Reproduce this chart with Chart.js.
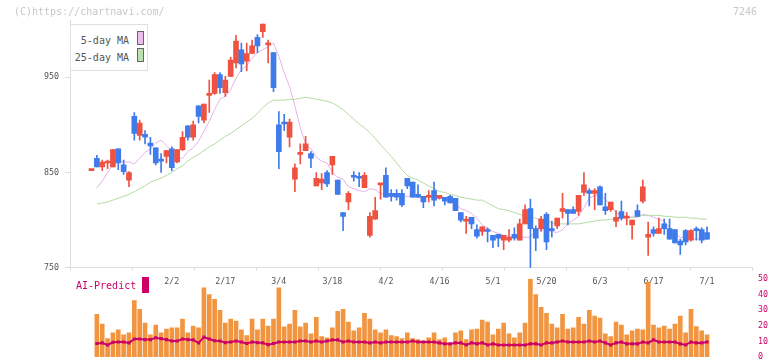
<!DOCTYPE html>
<html>
<head>
<meta charset="utf-8">
<script src="https://cdn.jsdelivr.net/npm/chart.js@4.4.1/dist/chart.umd.min.js"></script>
<style>
body { margin: 0; background: #fff; }
#wrap { position: relative; width: 772px; height: 361px; font-family: 'DejaVu Sans Mono', monospace; }
#wrap canvas { position: absolute; left: 0; top: 0; }
.txt { position: absolute; font-size: 10px; line-height: 12px; white-space: nowrap; }
#legendBox { position: absolute; left: 70px; top: 24px; width: 76px; height: 45px; border: 1px solid #e0e0e0; background: #fff; }
.lgText { position: absolute; right: 18px; font-size: 10px; line-height: 12px; color: #555; white-space: nowrap; }
.lgSwatch { position: absolute; left: 66px; width: 5px; height: 12px; border: 1px solid #666; }
</style>
</head>
<body>
<div id="wrap">
  <canvas id="chartMain" width="772" height="361"></canvas>
  <canvas id="chartPredict" width="772" height="361"></canvas>
  <div class="txt" style="left:14px; top:6px; color:#c8c8c8;">(C)https://chartnavi.com/</div>
  <div class="txt" style="right:15px; top:6px; color:#c8c8c8;">7246</div>
  <div id="legendBox">
    <div class="lgText" style="top:10px;">5-day MA</div>
    <div class="lgSwatch" style="top:6px; background:#ecbeec;"></div>
    <div class="lgText" style="top:27px;">25-day MA</div>
    <div class="lgSwatch" style="top:23px; background:#bee0b0;"></div>
  </div>
  <div class="txt" style="left:76px; top:280px; color:#cc0066;">AI-Predict</div>
  <div style="position:absolute; left:142px; top:277px; width:7px; height:16px; background:#cc0066;"></div>
</div>
<script>
// trading days shown on the chart
var days = ['1/9','1/13','1/14','1/15','1/16','1/19','1/20','1/21','1/22','1/23','1/26','1/27','1/28','1/29','1/30',
    '2/2','2/3','2/4','2/5','2/6','2/9','2/10','2/12','2/13','2/16','2/17','2/18','2/19','2/20','2/24','2/25','2/26','2/27',
    '3/2','3/3','3/4','3/5','3/6','3/9','3/10','3/11','3/12','3/13','3/16','3/17','3/18','3/19','3/23','3/24','3/25','3/26','3/27','3/30','3/31',
    '4/1','4/2','4/3','4/6','4/7','4/8','4/9','4/10','4/13','4/14','4/15','4/16','4/17','4/20','4/21','4/22','4/23','4/24','4/27','4/28','4/30',
    '5/1','5/7','5/8','5/11','5/12','5/13','5/14','5/15','5/18','5/19','5/20','5/21','5/22','5/25','5/26','5/27','5/28','5/29',
    '6/1','6/2','6/3','6/4','6/5','6/8','6/9','6/10','6/11','6/12','6/15','6/16','6/17','6/18','6/19','6/22','6/23','6/24','6/25','6/26','6/29','6/30',
    '7/1'];

var openP = [852,865,856,860,856,875,858,842,909,889, 890,881,876,864,867,875,861,874,899,887,
    920,905,931,933,953,934,951,965,979,967, 975,992,998,984,976,900,903,887,843,869,
    873,870,836,839,850,858,842,808,819,846, 846,834,784,801,837,847,828,828,828,844,
    840,827,825,824,831,823,824,825,823,808, 799,803,790,788,790,784,785,779,779,785,
    779,796,812,791,791,806,791,794,809,811, 811,809,829,831,828,835,814,811,799,809,
    802,795,810,820,782,790,786,796,791,790, 778,789,779,790,790,787];
var highP = [853,868,863,863,874,875,863,851,913,905, 894,887,876,870,873,877,874,893,899,904,
    920,922,947,955,955,951,971,994,986,986, 989,995,1006,989,976,914,911,906,859,880,
    888,872,850,849,852,867,842,808,830,851, 850,850,808,824,838,855,832,832,832,844,
    840,837,825,831,840,826,824,826,823,808, 804,803,795,793,792,784,785,784,790,792,
    801,816,822,794,804,808,799,802,828,811, 814,826,850,833,833,836,828,819,810,820,
    808,800,816,842,798,793,802,801,801,790, 780,790,790,793,792,793];
var lowP = [852,856,852,854,856,853,848,835,884,884, 880,869,858,850,860,852,860,873,884,884,
    902,902,913,932,933,930,951,960,956,957, 975,976,992,965,935,854,894,877,830,859,
    873,855,836,832,835,848,827,789,811,841, 835,834,782,801,822,824,820,821,814,833,
    824,824,813,819,815,822,816,818,810,798, 786,791,781,784,777,771,772,769,777,779,
    779,796,750,768,788,769,782,791,802,795, 807,805,826,815,811,816,806,809,793,800,
    795,780,804,818,763,783,786,785,780,776, 764,774,778,779,776,780];
var closeP = [853,856,861,861,874,860,851,850,891,902, 887,878,860,862,873,855,874,887,887,900,
    909,922,933,953,939,947,968,988,964,975, 983,983,1006,985,939,872,901,903,855,870,
    880,865,844,843,838,867,827,804,828,845, 844,847,804,810,838,824,825,824,816,836,
    824,824,819,825,821,826,820,818,810,800, 801,796,783,793,788,779,781,784,782,781,
    796,811,791,781,801,777,789,802,812,807, 807,826,837,828,831,816,810,819,803,802,
    803,800,804,835,785,786,791,791,780,776, 774,777,789,789,779,780];

var ma5 = [null,834,841,850,858,862,861,861,859,865, 871,875,881,884,878,872,865,865,872,876,
    883,893,904,916,927,930,937,949,958,962, 970,976,979,982,986,972,955,940,920,897,
    880,875,866,862,860,850,845,843,835,833, 831,830,833,832,828,826,825,825,825,825,
    825,824,824,824,823,823,822,821,817,812, 810,807,802,795,791,788,786,784,783,782,
    782,782,782,789,790,789,788,787,790,796, 800,804,813,823,826,826,822,816,808,804,
    803,803,803,806,805,803,801,799,792,786, 782,781,780,780,780,780];
var ma25 = [null,817,818,819,821,823,825,827,830,833, 836,840,842,844,847,850,854,857,862,866,
    869,873,877,880,884,888,891,895,899,903, 907,912,918,923,926,926,926,927,927,928,
    929,928,927,926,925,923,920,916,911,906, 901,897,892,886,879,873,867,860,853,847,
    844,842,839,836,833,830,829,827,826,824, 823,822,821,821,818,815,812,811,810,808,
    806,804,803,802,801,800,797,796,796,796, 796,796,797,798,799,800,800,801,801,802,
    803,803,804,805,805,805,805,804,804,803, 803,803,802,802,801,801];

var aiBars = [null,27.3,21.1,11.7,15.4,17.3,14.2,15.4,36.1,30.4, 21.7,14.2,20.4,15.4,17.9,18.6,18.6,24.2,15.4,19.8,
    18.6,44.2,39.8,36.9,29.8,21.7,24.2,22.9,17.3,13.6, 24.2,17.3,24.2,19.8,24.2,44.2,19.2,21.1,29.8,19.2,
    21.7,14.8,25.4,13,12.3,18.6,29.2,30.4,22.3,16.7, 18.6,27.9,24.2,17.3,15.4,17.3,13.6,13,11.7,15.4,
    11.7,11.1,10.4,12.3,15.4,11.1,12.3,7.9,15.4,16.7, 11.1,17.3,17.9,23.6,22.3,14.2,17.9,21.7,14.8,12.3,
    15.4,21.7,49.8,39.8,31.7,27.9,21.1,18.6,27.3,17.9, 18.6,25.4,21.1,29.8,26.1,24.8,14.8,13,22.3,20.4,
    14.2,16.7,17.9,17.3,47.9,20.4,18.6,19.8,17.9,21.1, 26.1,15.4,30.4,19.4,16.7,14.2];
var aiLine = [null,8.6,9,7.7,9.4,9.6,9.6,9,11.5,11.5, 11.1,11.1,12.3,11.7,11.1,10.2,10.2,11.5,11.1,10.9,
    9,12.7,11.5,10.4,10.2,9.2,9.6,10.2,9.6,8.6, 9.6,9.2,9,7.9,8.6,9.6,9.6,9.6,9.6,10.2,
    10.2,9.6,10.2,9.6,10.2,10.9,10.9,9.6,10.2,9.6, 9.6,9.6,9,9.6,9,9.6,9.6,9.6,9.6,9.6,
    10.2,9.6,9.6,9.6,9.6,9,8.4,8.4,9,9, 7.7,9,8.4,9,7.7,8.4,7.7,7.7,7.7,7.7,
    7.7,7.7,8.4,8.4,7.7,9,9,9.6,10.2,9.6, 9.6,9.6,9.6,10.2,9.6,10.2,9,7.7,9,9.6,
    8.4,8.4,8.4,9.6,9,10.9,9.6,9.6,9.6,9.6, 8.4,7.7,9.6,9,9,9.6];

var priceTicks = [750, 850, 950];
var dateTickIdx = [15, 25, 35, 45, 55, 65, 75, 85, 95, 105, 115];
var predictTicks = [0, 10, 20, 30, 40, 50];

var xMin = -4.02, xMax = 123.4;
var upColor = '#ef5240', downColor = '#3f7bea';
var monoFont = { family: 'DejaVu Sans Mono', size: 8.3 };

Chart.defaults.font.family = 'DejaVu Sans Mono';

function toPoints(arr) {
    var pts = [];
    arr.forEach(function(v, i) { if (v !== null) pts.push({ x: i, y: v }); });
    return pts;
}

var bodies = [], wicks = [], candleColors = [];
for (var i = 0; i < days.length; i++) {
    bodies.push({ x: i, y: [openP[i], closeP[i]] });
    wicks.push({ x: i, y: [lowP[i], highP[i]] });
    candleColors.push(closeP[i] >= openP[i] ? upColor : downColor);
}

function noPad(s) { s.paddingTop = 0; s.paddingBottom = 0; s.paddingLeft = 0; s.paddingRight = 0; }

// price chart with candles and moving averages
new Chart(document.getElementById('chartMain'), {
    type: 'bar',
    data: {
        datasets: [{
            type: 'line', label: '5-day MA', data: toPoints(ma5),
            borderColor: '#e8b2ea', borderWidth: 1, pointRadius: 0, order: 4,
            xAxisID: 'x', yAxisID: 'y'
        }, {
            type: 'line', label: '25-day MA', data: toPoints(ma25),
            borderColor: '#b2dba2', borderWidth: 1, pointRadius: 0, order: 3,
            xAxisID: 'x', yAxisID: 'y'
        }, {
            label: 'wick', data: wicks, backgroundColor: candleColors,
            barThickness: 1, grouped: false, order: 2, xAxisID: 'x', yAxisID: 'y'
        }, {
            label: 'body', data: bodies, backgroundColor: candleColors,
            barThickness: 5, minBarLength: 2, grouped: false, order: 1, xAxisID: 'x', yAxisID: 'y'
        }]
    },
    options: {
        responsive: false,
        animation: false,
        layout: { padding: { left: 0, right: 20, top: 20.2, bottom: 70.3 } },
        plugins: { legend: { display: false }, tooltip: { enabled: false } },
        scales: {
            x: {
                type: 'linear', position: 'bottom', min: xMin, max: xMax, offset: false,
                grid: { drawOnChartArea: false, tickLength: 3, color: '#dddddd', offset: false },
                border: { color: '#dddddd' },
                ticks: { display: false },
                afterBuildTicks: function(s) {
                    var t = [];
                    for (var k = 0; k <= 11; k++) t.push({ value: xMin + k * (xMax - xMin) / 11 });
                    s.ticks = t;
                },
                afterFit: function(s) { s.height = 3; noPad(s); }
            },
            xd: {
                type: 'linear', position: 'bottom', min: xMin, max: xMax, offset: false,
                grid: { display: false, drawTicks: false, offset: false },
                border: { display: false },
                afterBuildTicks: function(s) {
                    s.ticks = dateTickIdx.map(function(v) { return { value: v }; });
                },
                ticks: {
                    autoSkip: false, maxRotation: 0, padding: 6, color: '#555555', font: monoFont,
                    callback: function(v) { return days[v]; }
                },
                afterFit: function(s) { s.height = 20; noPad(s); }
            },
            y: {
                type: 'linear', position: 'left', min: 750, max: 1010,
                grid: { drawOnChartArea: false, tickLength: 5, color: '#dddddd' },
                border: { color: '#dddddd' },
                afterBuildTicks: function(s) {
                    s.ticks = priceTicks.map(function(v) { return { value: v }; });
                },
                ticks: { padding: 6, color: '#555555', font: monoFont },
                afterFit: function(s) { s.width = 70; noPad(s); }
            }
        }
    }
});

// AI-Predict panel
new Chart(document.getElementById('chartPredict'), {
    type: 'bar',
    data: {
        datasets: [{
            type: 'line', label: 'AI-Predict', data: toPoints(aiLine),
            borderColor: '#cc0066', backgroundColor: '#cc0066', borderWidth: 2,
            pointStyle: 'rect', pointRadius: 2.2, pointBorderWidth: 0, order: 1
        }, {
            label: 'volume', data: toPoints(aiBars), backgroundColor: '#f29541',
            barThickness: 4, order: 2
        }]
    },
    options: {
        responsive: false,
        animation: false,
        layout: { padding: { left: 70, right: 0, top: 278.7, bottom: 2.3 } },
        plugins: { legend: { display: false }, tooltip: { enabled: false } },
        scales: {
            x: { type: 'linear', min: xMin, max: xMax, offset: false, display: false },
            y: {
                type: 'linear', position: 'right', min: 0, max: 50,
                grid: { display: false, drawTicks: false },
                border: { display: false },
                afterBuildTicks: function(s) {
                    s.ticks = predictTicks.map(function(v) { return { value: v }; });
                },
                ticks: { padding: 6, color: '#cc0066', font: monoFont },
                afterFit: function(s) { s.width = 20; noPad(s); }
            }
        }
    }
});
</script>
</body>
</html>
